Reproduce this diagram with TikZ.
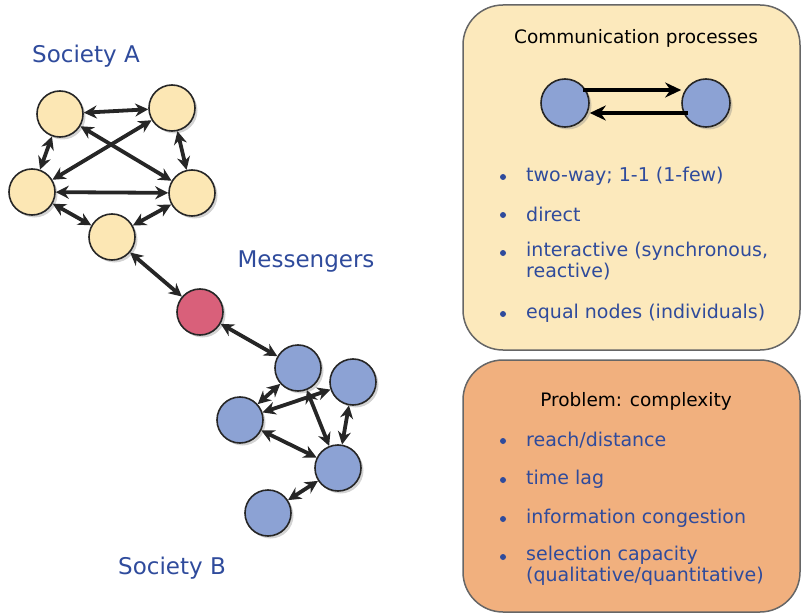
\documentclass[tikz,border=0pt]{standalone}
\usepackage{fontspec}
\setmainfont{DejaVu Sans}
\usetikzlibrary{arrows.meta,shadows}
\definecolor{txtblue}{HTML}{2F4B9C}
\definecolor{yel}{HTML}{FCE7B4}
\definecolor{blu}{HTML}{8CA2D4}
\definecolor{redn}{HTML}{D9607A}
\definecolor{box1}{HTML}{FCE9BC}
\definecolor{box2}{HTML}{F1B07E}
\tikzset{
  nd/.style={circle,draw=black!85,line width=1.6pt,minimum size=46pt,inner sep=0pt,
    drop shadow={shadow xshift=2.5pt,shadow yshift=-2.5pt,opacity=0.35}},
  ynd/.style={nd,fill=yel},
  bnd/.style={nd,fill=blu},
  rnd/.style={nd,fill=redn},
  link/.style={line width=3.8pt,color=black!85,{Stealth[length=13pt,width=13pt]}-{Stealth[length=13pt,width=13pt]}},
  onearr/.style={line width=4pt,color=black,-{Stealth[length=16pt,width=15pt]}},
  panel/.style={draw=black!60,line width=1.5pt,rounded corners=40pt},
  lab/.style={text=txtblue,font=\fontsize{23}{28}\selectfont},
  ttl/.style={text=black,font=\fontsize{18.5}{22}\selectfont},
  item/.style={text=txtblue,font=\fontsize{19}{21}\selectfont,anchor=west,align=left,inner sep=0pt},
  bul/.style={circle,fill=txtblue,inner sep=0pt,minimum size=6pt}
}
\begin{document}
\begin{tikzpicture}[x=1pt,y=-1pt]
\useasboundingbox (0,0) rectangle (801,615);
% panels
\draw[panel,fill=box1] (463,5) rectangle (800,350);
\draw[panel,fill=box2] (463,360) rectangle (800,612);
% labels
\node[lab] (la) at (86,56) {Society A};
\node[lab] (lm) at (306,262) {Messengers};
\node[lab] (lb) at (172,568) {Society B};
% society A
\node[ynd] (a1) at (60,114) {};
\node[ynd] (a2) at (172,108) {};
\node[ynd] (a3) at (32,192) {};
\node[ynd] (a4) at (192,193) {};
\node[ynd] (a5) at (112,237) {};
\node[rnd] (m) at (200,312) {};
% society B
\node[bnd] (b1) at (298,368) {};
\node[bnd] (b2) at (353,382) {};
\node[bnd] (b3) at (240,420) {};
\node[bnd] (b4) at (338,468) {};
\node[bnd] (b5) at (268,513) {};
\draw[link] (a1) -- (a2);
\draw[link] (a1) -- (a3);
\draw[link] (a1) -- (a4);
\draw[link] (a2) -- (a3);
\draw[link] (a2) -- (a4);
\draw[link] (a3) -- (a4);
\draw[link] (a3) -- (a5);
\draw[link] (a4) -- (a5);
\draw[link] (a5) -- (m);
\draw[link] (m) -- (b1);
\draw[link] (b1) -- (b3);
\draw[link] (b3) -- (b2);
\draw[link] (b1) -- (b4);
\draw[link] (b2) -- (b4);
\draw[link] (b3) -- (b4);
\draw[link] (b4) -- (b5);
% panel 1
\node[ttl] (t1) at (636,38) {Communication processes};
\node[bnd,minimum size=48pt] (c1) at (565,103) {};
\node[bnd,minimum size=48pt] (c2) at (706,103) {};
\draw[onearr] (c1.north east |- 0,90) -- (c2.west |- 0,90);
\draw[onearr] (c2.south west |- 0,113) -- (c1.east |- 0,113);
\node[bul] (u1) at (503,177) {};
\node[item] (i1) at (526,176) {two-way; 1-1 (1-few)};
\node[bul] (u2) at (503,215) {};
\node[item] (i2) at (526,214) {direct};
\node[bul] (u3) at (503,253) {};
\node[item,anchor=north west] (i3) at (526,242) {interactive (synchronous,\\reactive)};
\node[bul] (u4) at (503,314) {};
\node[item] (i4) at (526,313) {equal nodes (individuals)};
% panel 2
\node[ttl] (t2) at (636,401) {Problem: complexity};
\node[bul] (v1) at (503,441) {};
\node[item] (j1) at (526,440) {reach/distance};
\node[bul] (v2) at (503,480) {};
\node[item] (j2) at (526,479) {time lag};
\node[bul] (v3) at (503,519) {};
\node[item] (j3) at (526,518) {information congestion};
\node[bul] (v4) at (503,557) {};
\node[item,anchor=north west] (j4) at (526,546) {selection capacity\\(qualitative/quantitative)};
\end{tikzpicture}
\end{document}
